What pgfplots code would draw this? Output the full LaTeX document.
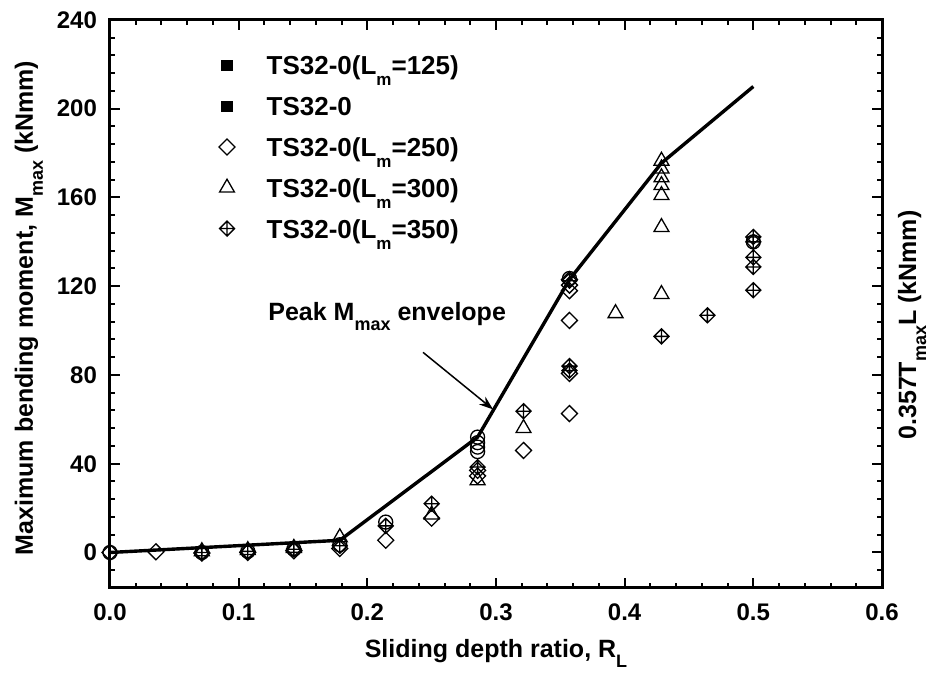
\documentclass[border=0pt]{standalone}
\usepackage{fontspec}
\setmainfont{Liberation Sans}
\usepackage{pgfplots}
\pgfplotsset{compat=1.18}
\usetikzlibrary{arrows.meta}

\newcommand\lsub[1]{\raisebox{-5.5pt}[0pt][0pt]{\fontsize{8.5}{9}\selectfont #1}}
\newcommand\asub[1]{\raisebox{-5pt}[0pt][0pt]{\fontsize{9}{10}\selectfont #1}}

\pgfdeclareplotmark{sqdiamond}{%
  \pgfpathmoveto{\pgfqpoint{0pt}{\pgfplotmarksize}}%
  \pgfpathlineto{\pgfqpoint{\pgfplotmarksize}{0pt}}%
  \pgfpathlineto{\pgfqpoint{0pt}{-\pgfplotmarksize}}%
  \pgfpathlineto{\pgfqpoint{-\pgfplotmarksize}{0pt}}%
  \pgfpathclose
  \pgfusepathqstroke}
\pgfdeclareplotmark{crossdiamond}{%
  \pgfpathmoveto{\pgfqpoint{0pt}{\pgfplotmarksize}}%
  \pgfpathlineto{\pgfqpoint{\pgfplotmarksize}{0pt}}%
  \pgfpathlineto{\pgfqpoint{0pt}{-\pgfplotmarksize}}%
  \pgfpathlineto{\pgfqpoint{-\pgfplotmarksize}{0pt}}%
  \pgfpathclose
  \pgfpathmoveto{\pgfqpoint{-\pgfplotmarksize}{0pt}}%
  \pgfpathlineto{\pgfqpoint{\pgfplotmarksize}{0pt}}%
  \pgfpathmoveto{\pgfqpoint{0pt}{\pgfplotmarksize}}%
  \pgfpathlineto{\pgfqpoint{0pt}{-\pgfplotmarksize}}%
  \pgfusepathqstroke}

\begin{document}
\begin{tikzpicture}
\begin{axis}[name=ax, scale only axis, width=386pt, height=284pt,
  xmin=0, xmax=0.6, ymin=-16, ymax=240,
  xtick={0,0.1,0.2,0.3,0.4,0.5,0.6},
  ytick={0,40,80,120,160,200,240},
  minor xtick={0.02,0.04,0.06,0.08,0.12,0.14,0.16,0.18,0.22,0.24,0.26,0.28,0.32,0.34,0.36,0.38,0.42,0.44,0.46,0.48,0.52,0.54,0.56,0.58},
  minor ytick={-8,8,16,24,32,48,56,64,72,88,96,104,112,128,136,144,152,168,176,184,192,208,216,224,232},
  tick align=inside, major tick length=5pt, minor tick length=2.5pt,
  every tick/.style={black, line width=1pt},
  axis line style={line width=1.5pt},
  scaled ticks=false,
  /pgf/number format/assume math mode=true,
  xticklabel={\pgfmathprintnumber[fixed,fixed zerofill,precision=1]{\tick}},
  xticklabel style={font=\fontsize{12}{13}\selectfont\bfseries, yshift=-4.5pt},
  yticklabel style={font=\fontsize{12}{13}\selectfont\bfseries, xshift=-3pt},
  legend style={at={(axis cs:0.0808,224)}, anchor=north west, draw=none, fill=none,
    inner sep=0pt, row sep=10.9pt,
    nodes={inner sep=0pt, text height=9.5pt, text depth=0pt, anchor=west},
    font=\fontsize{13}{14}\selectfont\bfseries},
  legend cell align=left,
  mk/.style={only marks, black, line width=0.65pt,
    legend image code/.code={\path (-6pt,0pt) (19.5pt,0pt); \draw[##1] plot coordinates {(0pt,0pt)};}},
]
% Lm=125 (circles)
\addplot[mk, mark=o, mark size=3.5pt,
  legend image code/.code={\path (-6pt,0pt) (19.5pt,0pt); \fill[black] (-2.5pt,-2.5pt) rectangle (2.5pt,2.5pt);}]
  coordinates {(0,0) (0.0714,0) (0.1071,0.5) (0.1429,1.5) (0.1786,3.5) (0.2143,13.7) (0.3571,123.5) (0.5,140)};
\addlegendentry{TS32-0(L\lsub{m}=125)}
% TS32-0 (circles)
\addplot[mk, mark=o, mark size=3.5pt,
  legend image code/.code={\path (-6pt,0pt) (19.5pt,0pt); \fill[black] (-2.5pt,-2.5pt) rectangle (2.5pt,2.5pt);}]
  coordinates {(0.2857,45.5) (0.2857,47.5) (0.2857,49.5) (0.2857,52)};
\addlegendentry{TS32-0}
% Lm=250 (diamonds)
\addplot[mk, mark=sqdiamond, mark size=4pt]
  coordinates {(0,0) (0.0357,0.3) (0.0714,-0.3) (0.1071,0) (0.1429,0.8) (0.1786,1.8)
  (0.2143,5.5) (0.25,15.5) (0.2857,34.5) (0.2857,37) (0.3214,46) (0.3571,62.6)
  (0.3571,80.7) (0.3571,104.6) (0.3571,118) (0.3571,120.5) (0.3571,123)};
\addlegendentry{TS32-0(L\lsub{m}=250)}
% Lm=300 (triangles)
\addplot[mk, mark=triangle, mark size=4.3pt]
  coordinates {(0.0714,0.5) (0.1071,1) (0.1429,2) (0.1786,6.8) (0.25,17) (0.2857,32.5)
  (0.3214,56) (0.3929,107.8) (0.4286,116.4) (0.4286,146.6) (0.4286,161) (0.4286,165.5)
  (0.4286,169) (0.4286,173) (0.4286,176.5)};
\addlegendentry{TS32-0(L\lsub{m}=300)}
% Lm=350 (crossed diamonds)
\addplot[mk, mark=crossdiamond, mark size=3.75pt]
  coordinates {(0.0714,0) (0.1071,0.5) (0.1429,1.5) (0.1786,3) (0.2143,12) (0.25,22)
  (0.2857,38.5) (0.3214,63.7) (0.3571,82) (0.3571,84) (0.3571,122.5) (0.4286,97.4)
  (0.4643,106.9) (0.5,118.2) (0.5,128.7) (0.5,133) (0.5,140) (0.5,142.2)};
\addlegendentry{TS32-0(L\lsub{m}=350)}
% envelope
\addplot[black, line width=1.7pt, mark=none, forget plot]
  coordinates {(0,0) (0.1786,5.5) (0.2857,52) (0.3571,123) (0.4286,175.5) (0.5,210)};
\draw[line width=0.75pt, -{Stealth[length=7pt,width=5pt]}] (axis cs:0.2433,90.2) -- (axis cs:0.2977,64.5);
\node[anchor=base west, inner sep=0pt, font=\fontsize{12.5}{14}\selectfont\bfseries]
  at (axis cs:0.1228,104.6) {Peak M\asub{max} envelope};
\end{axis}
\node[anchor=base, inner sep=0pt, font=\fontsize{12.5}{14}\selectfont\bfseries]
  at ([yshift=-35pt]ax.south) {Sliding depth ratio, R\asub{L}};
\node[anchor=base, rotate=90, inner sep=0pt, font=\fontsize{12.5}{14}\selectfont\bfseries]
  at ([xshift=-38.5pt,yshift=-2pt]ax.west) {Maximum bending moment, M\asub{max} (kNmm)};
\node[anchor=base, rotate=90, inner sep=0pt, font=\fontsize{12.5}{14}\selectfont\bfseries]
  at ([xshift=17pt,yshift=-10.5pt]ax.east) {0.357T\asub{max}L (kNmm)};
\pgfresetboundingbox
\path[use as bounding box] ([xshift=-55pt,yshift=-47.5pt]ax.south west) rectangle ([xshift=30pt,yshift=10pt]ax.north east);
\end{tikzpicture}
\end{document}
